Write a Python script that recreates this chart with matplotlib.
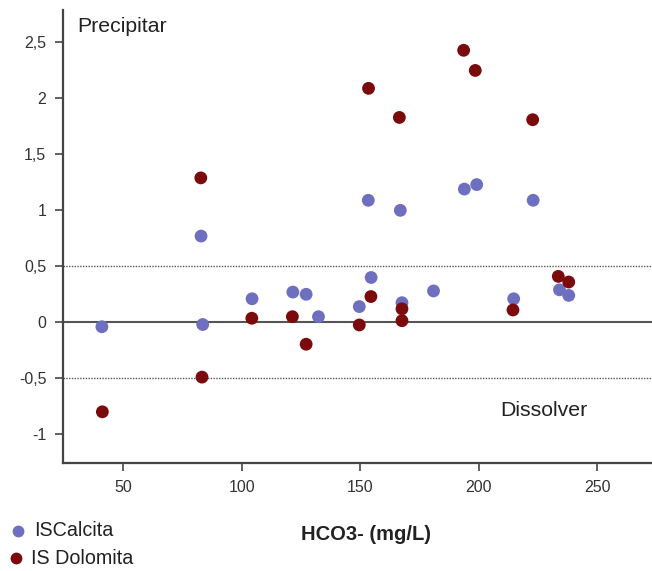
import matplotlib
matplotlib.use("Agg")
import matplotlib.pyplot as plt
from matplotlib.ticker import FixedLocator, FixedFormatter

plt.rcParams['font.family'] = ['Liberation Sans', 'DejaVu Sans']

calc_x = [41.1, 82.9, 83.6, 104.4, 121.6, 127.2, 132.4, 149.6, 154.6, 167.6, 180.9,
          214.7, 234.0, 237.9, 153.4, 166.9, 193.9, 199.1, 222.9]
calc_y = [-0.04, 0.77, -0.02, 0.21, 0.27, 0.25, 0.05, 0.14, 0.40, 0.175, 0.28,
          0.21, 0.29, 0.24, 1.09, 1.00, 1.19, 1.23, 1.09]

dol_x = [41.3, 83.3, 82.8, 104.3, 121.4, 127.2, 149.6, 154.5, 167.6, 167.6, 214.4,
         233.5, 237.9, 153.5, 166.5, 193.6, 198.5, 222.7]
dol_y = [-0.80, -0.49, 1.29, 0.036, 0.05, -0.196, -0.024, 0.23, 0.12, 0.014, 0.11,
         0.41, 0.36, 2.09, 1.83, 2.43, 2.25, 1.81]

xticks = [50, 100, 150, 200, 250]
yticks = [-1, -0.5, 0, 0.5, 1, 1.5, 2, 2.5]
ytick_labels = ["-1", "-0,5", "0", "0,5", "1", "1,5", "2", "2,5"]

blue = "#6f6fbf"
red = "#7b0a0c"
spine_c = "#444444"

W, H = 652, 571
fig = plt.figure(figsize=(W/100, H/100), dpi=100)
ax = fig.add_axes([63/W, 1-463.3/H, 1-63/W, (463.3-10)/H])
ax.set_xlim(24.7, 273)
ax.set_ylim(-1.26, 2.79)

ax.axhline(0, color="#555555", lw=1.5, zorder=1)
ax.axhline(0.5, color="#555555", lw=1.0, ls=(0, (1, 1)), zorder=1)
ax.axhline(-0.5, color="#555555", lw=1.0, ls=(0, (1, 1)), zorder=1)

ax.scatter(calc_x, calc_y, s=85, color=blue, edgecolors='none', zorder=3)
ax.scatter(dol_x, dol_y, s=85, color=red, edgecolors='none', zorder=3)

for s in ['top', 'right']:
    ax.spines[s].set_visible(False)
for s in ['left', 'bottom']:
    ax.spines[s].set_color(spine_c)
    ax.spines[s].set_linewidth(1.6)

ax.xaxis.set_major_locator(FixedLocator(xticks))
ax.yaxis.set_major_locator(FixedLocator(yticks))
ax.yaxis.set_major_formatter(FixedFormatter(ytick_labels))
ax.tick_params(axis='both', direction='out', length=6, width=1.2, color=spine_c,
               labelsize=11.5, labelcolor="#333333", pad=6)

fig.text(77/W, 1-26/H, "Precipitar", fontsize=15.3, color="#222222",
         va='center', ha='left')
fig.text(500/W, 1-410/H, "Dissolver", fontsize=15.3, color="#222222",
         va='center', ha='left')

fig.text(366/W, 1-535/H, "HCO3- (mg/L)", fontsize=14.5, fontweight='bold',
         color="#222222", ha='center', va='center')

fig.text(34/W, 1-531/H, "ISCalcita", fontsize=14.2, color="#222222", ha='left', va='center')
fig.text(31/W, 1-558/H, "IS Dolomita", fontsize=14.2, color="#222222", ha='left', va='center')
fig.add_artist(plt.Line2D([18/W], [1-531/H], marker='o', markersize=8.5,
                          color=blue, markeredgewidth=0, transform=fig.transFigure))
fig.add_artist(plt.Line2D([16/W], [1-558/H], marker='o', markersize=8.5,
                          color=red, markeredgewidth=0, transform=fig.transFigure))

fig.savefig("out.png", dpi=100)
